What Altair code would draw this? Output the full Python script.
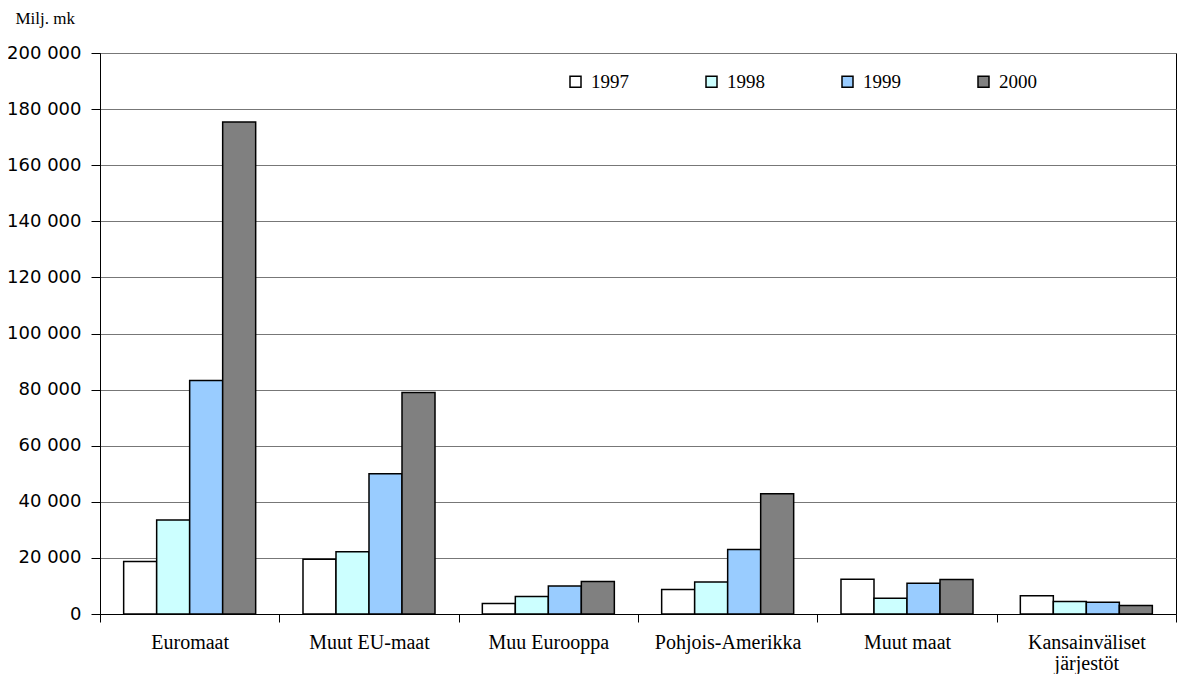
import altair as alt
import pandas as pd

categories = ["Euromaat", "Muut EU-maat", "Muu Eurooppa", "Pohjois-Amerikka",
              "Muut maat", "Kansainväliset järjestöt"]
years = ["1997", "1998", "1999", "2000"]
v1997 = [18700, 19500, 3700, 8700, 12400, 6500]
v1998 = [33500, 22200, 6200, 11400, 5600, 4500]
v1999 = [83200, 50000, 10000, 23000, 11000, 4200]
v2000 = [175400, 79000, 11600, 42900, 12300, 3000]
colors = ["#FFFFFF", "#CCFFFF", "#99CCFF", "#808080"]
y_ticks = [0, 20000, 40000, 60000, 80000, 100000, 120000, 140000, 160000, 180000, 200000]

series = {"1997": v1997, "1998": v1998, "1999": v1999, "2000": v2000}
rows = []
for yr in years:
    for c, v in zip(categories, series[yr]):
        rows.append({"alue": c, "vuosi": yr, "arvo": v})
df = pd.DataFrame(rows)

serif = "Liberation Serif"
sans = "DejaVu Sans"

chart = alt.Chart(df).mark_bar(stroke="black", strokeWidth=1.5).encode(
    x=alt.X("alue:N", sort=categories,
            scale=alt.Scale(paddingInner=0, paddingOuter=0),
            axis=alt.Axis(title=None, labelAngle=0, tickBand="extent",
                          domainColor="black", tickColor="black", tickSize=8,
                          labelFont=serif, labelFontSize=20, labelColor="black",
                          labelPadding=10, labelBaseline="top", labelLineHeight=21,
                          labelExpr="datum.label == 'Kansainväliset järjestöt' ? ['Kansainväliset', 'järjestöt'] : datum.label",
                          grid=False)),
    xOffset=alt.XOffset("vuosi:N", sort=years,
                        scale=alt.Scale(paddingInner=0, paddingOuter=0.717)),
    y=alt.Y("arvo:Q",
            scale=alt.Scale(domain=[0, 200000], nice=False),
            axis=alt.Axis(values=y_ticks, title="Milj. mk", titleAngle=0,
                          titleAlign="left", titleBaseline="alphabetic",
                          titleX=-85, titleY=-30, titleFont=serif,
                          titleFontSize=17, titleFontWeight="normal", titleColor="black",
                          labelFont=sans, labelFontSize=18, labelColor="black",
                          labelPadding=10, tickSize=9, tickColor="black",
                          domainColor="black", gridColor="#777777", gridWidth=1,
                          labelExpr="replace(format(datum.value, ','), regexp(',', 'g'), ' ')")),
    color=alt.Color("vuosi:N", sort=years,
                    scale=alt.Scale(domain=years, range=colors),
                    legend=alt.Legend(title=None, orient="none", direction="horizontal",
                                      legendX=466, legendY=19, padding=0,
                                      symbolType="square", symbolSize=121,
                                      symbolStrokeColor="black", symbolStrokeWidth=1.5,
                                      labelFont=serif, labelFontSize=19, labelColor="black",
                                      labelOffset=6, columnPadding=73)),
).properties(
    width=1076, height=561,
    autosize=alt.AutoSizeParams(type="none"),
    padding={"left": 92, "top": 45, "right": 2, "bottom": 60},
).configure_view(stroke="black", strokeWidth=1)

chart.save("out.html", embed_options={"renderer": "svg", "actions": False})
